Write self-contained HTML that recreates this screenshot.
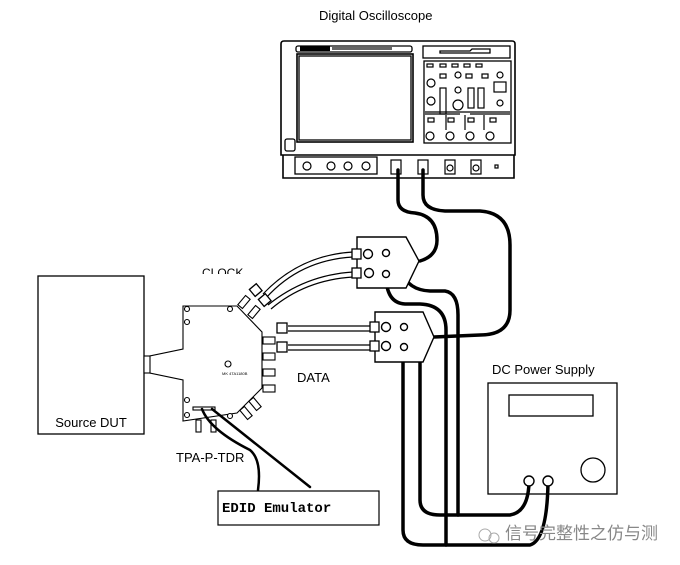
<!DOCTYPE html>
<html><head><style>html,body{margin:0;padding:0;background:#fff;}svg{display:block}</style></head>
<body>
<svg width="680" height="565" viewBox="0 0 680 565" xmlns="http://www.w3.org/2000/svg" font-family="Liberation Sans, sans-serif">
<rect width="680" height="565" fill="#fff"/>
<text x="319" y="20" font-size="13">Digital Oscilloscope</text>

<!-- Oscilloscope -->
<g fill="none" stroke="#000" stroke-width="1.3">
<path d="M281 44 Q281 41 284 41 L512 41 Q515 41 515 44 L515 155 L281 155 Z" stroke-width="1.6"/>
<path d="M283 155 L283 178 L514 178 L514 155" stroke-width="1.6"/>
<rect x="296" y="46" width="116" height="6" rx="2"/>
<rect x="297" y="54" width="116" height="88" stroke-width="1.6"/>
<rect x="299" y="56" width="112" height="84"/>
<rect x="423" y="46" width="87" height="12"/>
<path d="M440 51 L470 51 L472 49 L490 49 L490 53 L440 53Z"/>
<rect x="424" y="61" width="87" height="82"/>
<rect x="285" y="139" width="10" height="12" rx="2"/>
<rect x="295" y="157" width="82" height="17"/>
</g>
<g fill="#000">
<rect x="300" y="46" width="30" height="5"/>
<rect x="332" y="47" width="60" height="3" opacity="0.6"/>
</g>
<g fill="none" stroke="#000" stroke-width="1.2">
<circle cx="307" cy="166" r="4"/><circle cx="331" cy="166" r="4"/><circle cx="348" cy="166" r="4"/><circle cx="366" cy="166" r="4"/>
<rect x="391" y="160" width="10" height="14"/><rect x="418" y="160" width="10" height="14"/>
<rect x="445" y="160" width="10" height="14"/><rect x="471" y="160" width="10" height="14"/>
<circle cx="450" cy="168" r="3"/><circle cx="476" cy="168" r="3"/>
<rect x="495" y="165" width="3" height="3"/>
<circle cx="431" cy="83" r="4"/><circle cx="431" cy="101" r="4"/><circle cx="458" cy="105" r="5"/>
<circle cx="458" cy="75" r="3"/><circle cx="458" cy="90" r="3"/><circle cx="500" cy="75" r="3"/><circle cx="500" cy="103" r="3"/>
<circle cx="430" cy="136" r="4"/><circle cx="450" cy="136" r="4"/><circle cx="470" cy="136" r="4"/><circle cx="490" cy="136" r="4"/>
<rect x="427" y="64" width="6" height="3"/><rect x="440" y="64" width="6" height="3"/><rect x="452" y="64" width="6" height="3"/><rect x="464" y="64" width="6" height="3"/><rect x="476" y="64" width="6" height="3"/>
<rect x="440" y="74" width="6" height="4"/><rect x="440" y="88" width="6" height="26"/>
<rect x="466" y="74" width="6" height="4"/><rect x="482" y="74" width="6" height="4"/><rect x="494" y="82" width="12" height="10"/>
<rect x="468" y="88" width="6" height="20"/><rect x="478" y="88" width="6" height="20"/>
<path d="M425 112 L510 112 M425 114 L460 114 M470 114 L510 114 M446 115 L446 130 M465 115 L465 130 M484 115 L484 130"/>
<rect x="428" y="118" width="6" height="4"/><rect x="448" y="118" width="6" height="4"/><rect x="468" y="118" width="6" height="4"/><rect x="490" y="118" width="6" height="4"/>
</g>

<g fill="none" stroke="#000" stroke-width="3.5" stroke-linecap="round">
<path d="M398 170 L398 200 Q398 212 415 213 Q437 216 437 240 Q437 256 420 261"/>
<path d="M423 170 L423 195 Q423 210 445 211 L480 211 Q510 213 510 245 L510 310 Q510 335 480 335 L434 337"/>
<path d="M387 253 Q397 255 402 272 Q408 290 430 291 L445 291 Q458 293 458 315 L458 515"/>
<path d="M386 275 Q386 303 405 304 L420 304 Q446 305 446 330 L446 545"/>
<path d="M404 327 Q420 330 420 350 L420 500 Q420 515 440 515 L510 515 Q528 512 529 483"/>
<path d="M403 348 L403 530 Q403 545 423 545 L530 545 Q547 540 548 483"/>
</g>

<g fill="#fff" stroke="#000" stroke-width="1.4">
<path d="M357 237 L406 237 L419 261 L406 288 L357 288 Z"/>
<circle cx="368" cy="254" r="4.5"/><circle cx="386" cy="253" r="3.5"/>
<circle cx="369" cy="273" r="4.5"/><circle cx="386" cy="274" r="3.5"/>
<path d="M375 312 L423 312 L434 337 L423 362 L375 362 Z"/>
<circle cx="386" cy="327" r="4.5"/><circle cx="404" cy="327" r="3.5"/>
<circle cx="386" cy="346" r="4.5"/><circle cx="404" cy="347" r="3.5"/>
</g>

<g fill="none" stroke="#000" stroke-width="1.2">
<path d="M288 326 L372 326 M288 331 L372 331"/>
<path d="M288 345 L372 345 M288 350 L372 350"/>
<path d="M263 294 Q300 255 353 252 M266 298 Q300 260 353 257"/>
<path d="M268 305 Q305 275 353 272 M271 309 Q305 280 353 277"/>
</g>
<g fill="#fff" stroke="#000" stroke-width="1.3">
<rect x="277" y="323" width="10" height="10"/><rect x="277" y="342" width="10" height="10"/>
<rect x="370" y="322" width="9" height="10"/><rect x="370" y="341" width="9" height="10"/>
<rect x="352" y="249" width="9" height="10"/><rect x="352" y="268" width="9" height="10"/>
<rect x="251" y="286" width="9" height="9" transform="rotate(-40 255 290)"/>
<rect x="260" y="296" width="9" height="9" transform="rotate(-40 264 300)"/>
</g>
<text x="202" y="277" font-size="12" fill="#000">CLOCK</text>
<rect x="195" y="274" width="60" height="8" fill="#fff"/>
<text x="297" y="382" font-size="13">DATA</text>

<rect x="38" y="276" width="106" height="158" fill="none" stroke="#000" stroke-width="1.3"/>
<text x="91" y="427" font-size="13" text-anchor="middle">Source DUT</text>

<g fill="#fff" stroke="#000" stroke-width="1.1">
<path d="M183 306 L237 306 L262 332 L262 388 L237 413 L183 421 L183 380 L145 372 L145 357 L183 349 Z"/>
<rect x="144" y="356" width="6" height="17"/>
<rect x="263" y="337" width="12" height="7"/><rect x="263" y="353" width="12" height="7"/>
<rect x="263" y="369" width="12" height="7"/><rect x="263" y="385" width="12" height="7"/>
<rect x="241" y="296" width="6" height="12" transform="rotate(40 244 302)"/>
<rect x="251" y="306" width="6" height="12" transform="rotate(40 254 312)"/>
<rect x="243" y="407" width="6" height="12" transform="rotate(-40 246 413)"/>
<rect x="252" y="398" width="6" height="12" transform="rotate(-40 255 404)"/>
<rect x="196" y="420" width="5" height="12"/><rect x="211" y="420" width="5" height="12"/>
<rect x="193" y="407" width="22" height="3"/>
<circle cx="187" cy="309" r="2.5"/><circle cx="230" cy="309" r="2.5"/><circle cx="187" cy="322" r="2.5"/>
<circle cx="187" cy="400" r="2.5"/><circle cx="187" cy="415" r="2.5"/><circle cx="230" cy="416" r="2.5"/>
<circle cx="228" cy="364" r="3"/>
</g>
<text x="222" y="375" font-size="4">MK 4TA1180B</text>
<text x="176" y="462" font-size="13">TPA-P-TDR</text>

<g fill="none" stroke="#000" stroke-width="2.5" stroke-linecap="round">
<path d="M202 409 Q210 430 250 450 Q262 460 258 490"/>
<path d="M212 409 L310 487"/>
</g>
<rect x="218" y="491" width="161" height="34" fill="#fff" stroke="#000" stroke-width="1.2"/>
<text x="222" y="512" font-size="14" font-weight="bold" font-family="Liberation Mono, monospace">EDID Emulator</text>

<text x="492" y="374" font-size="13">DC Power Supply</text>
<rect x="488" y="383" width="129" height="111" fill="none" stroke="#000" stroke-width="1.3"/>
<rect x="509" y="395" width="84" height="21" fill="none" stroke="#000" stroke-width="1.3"/>
<circle cx="593" cy="470" r="12" fill="none" stroke="#000" stroke-width="1.3"/>
<circle cx="529" cy="481" r="5" fill="#fff" stroke="#000" stroke-width="1.4"/>
<circle cx="548" cy="481" r="5" fill="#fff" stroke="#000" stroke-width="1.4"/>

<text x="505" y="539" font-size="17" fill="#888" font-family="Liberation Sans, Noto Sans CJK SC, sans-serif">信号完整性之仿与测</text>
<circle cx="485" cy="535" r="6" fill="none" stroke="#aaa"/><circle cx="494" cy="538" r="5" fill="none" stroke="#aaa"/>
</svg>
</body></html>
